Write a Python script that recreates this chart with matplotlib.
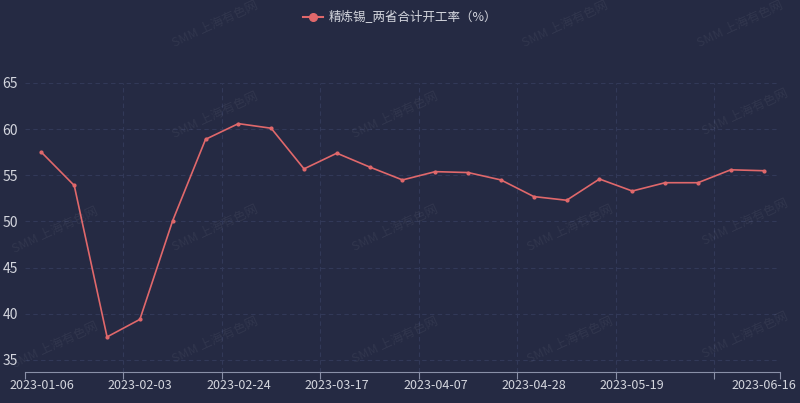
import matplotlib
matplotlib.use("Agg")
import matplotlib.pyplot as plt
from matplotlib.lines import Line2D

plt.rcParams['font.family'] = ['Noto Sans CJK SC', 'DejaVu Sans']

dates = ["2023-01-06", "2023-01-13", "2023-01-20", "2023-02-03", "2023-02-10",
         "2023-02-17", "2023-02-24", "2023-03-03", "2023-03-10", "2023-03-17",
         "2023-03-24", "2023-03-31", "2023-04-07", "2023-04-14", "2023-04-21",
         "2023-04-28", "2023-05-05", "2023-05-12", "2023-05-19", "2023-05-26",
         "2023-06-02", "2023-06-09", "2023-06-16"]
values = [57.5, 53.9, 37.5, 39.4, 50.1, 58.9, 60.6, 60.1, 55.7, 57.4,
          55.9, 54.5, 55.4, 55.3, 54.5, 52.7, 52.3, 54.6, 53.3, 54.2,
          54.2, 55.6, 55.5]
series_name = "精炼锡_两省合计开工率（%）"
y_ticks = [35, 40, 45, 50, 55, 60, 65]
label_idx = [0, 3, 6, 9, 12, 15, 18, 22]

bg = "#252a43"
line_c = "#e0686b"
txt_c = "#d4d6de"
grid_c = "#323958"

fig = plt.figure(figsize=(8, 4.03), dpi=100, facecolor=bg)
ax = fig.add_axes([25/800, 1-372/403, 755/800, (372-83)/403])
ax.set_facecolor(bg)

x = list(range(len(values)))
ax.plot(x, values, color=line_c, lw=1.2, marker='o', ms=2, zorder=3)

ax.set_xlim(-0.5, len(values) - 0.5)
ax.set_ylim(33.7, 65)

# grid
for yv in y_ticks:
    ax.axhline(yv, color=grid_c, lw=0.8, ls=(0, (4, 3)), zorder=1)
bounds = [-0.5 + 3*k for k in range(8)] + [len(values) - 0.5]
for b in bounds[1:-1]:
    ax.axvline(b, color=grid_c, lw=0.8, ls=(0, (4, 3)), zorder=1)

ax.set_yticks(y_ticks)
ax.set_yticklabels([str(v) for v in y_ticks], color=txt_c, fontsize=10)
ax.tick_params(axis='y', length=0, pad=5)

ax.set_xticks(label_idx)
ax.set_xticklabels([dates[i] for i in label_idx], color=txt_c, fontsize=9)
ax.tick_params(axis='x', length=0, pad=5)
ax.set_xticks(bounds, minor=True)
ax.tick_params(axis='x', which='minor', length=5, color="#8a90a8", width=0.8)

for s in ['top', 'right', 'left']:
    ax.spines[s].set_visible(False)
ax.spines['bottom'].set_color("#8a90a8")
ax.spines['bottom'].set_linewidth(0.8)

# legend
handle = Line2D([], [], color=line_c, lw=1.5, marker='o', ms=5.5)
leg = fig.legend([handle], [series_name], loc='upper center', bbox_to_anchor=(0.5, 1.0),
                 frameon=False, fontsize=9, labelcolor=txt_c, handlelength=1.6,
                 handletextpad=0.4)

# watermarks
wm = "SMM 上海有色网"
positions = [(215, 115), (395, 115), (745, 112), (55, 230), (215, 228), (395, 228),
             (570, 228), (745, 222), (55, 345), (215, 340), (395, 340), (570, 340),
             (745, 335), (215, 24), (565, 24), (740, 24)]
for (px, py) in positions:
    fig.text(px/800, 1-py/403, wm, color="#ffffff", alpha=0.06, fontsize=9,
             rotation=25, ha='center', va='center')

fig.savefig("out.png", dpi=100, facecolor=bg)
